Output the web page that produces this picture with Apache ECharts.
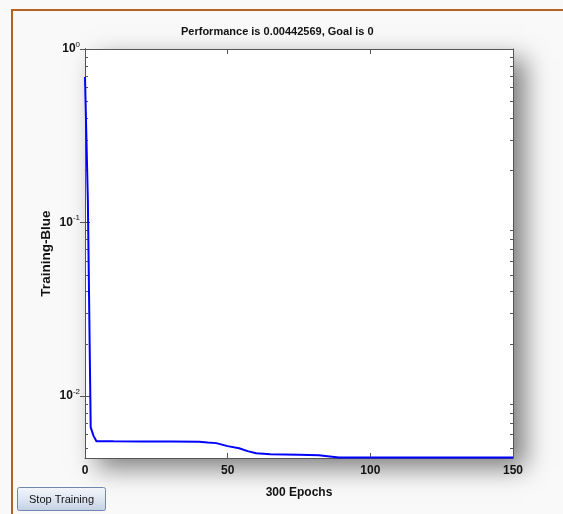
<!DOCTYPE html>
<html>
<head>
<meta charset="utf-8">
<script src="https://cdn.jsdelivr.net/npm/echarts@6/dist/echarts.min.js"></script>
<style>
html,body{margin:0;padding:0;background:#f9f9f9;}
#c{width:563px;height:514px;}
</style>
</head>
<body>
<div id="c"></div>
<script>
// ---- data ----
const titleText = 'Performance is 0.00442569, Goal is 0';
const xName = '300 Epochs';
const yName = 'Training-Blue';
const xTicks = [0, 50, 100, 150];
const yMajorTicks = [0.01, 0.1, 1];
const yMinorTicks = [0.005, 0.006, 0.007, 0.008, 0.009,
  0.02, 0.03, 0.04, 0.05, 0.06, 0.07, 0.08, 0.09,
  0.2, 0.3, 0.4, 0.5, 0.6, 0.7, 0.8, 0.9];
const epochs = [0, 1, 2, 3, 4, 10, 20, 30, 40, 43, 46, 50, 54, 57, 60, 65, 75, 82, 85, 89, 100, 120, 150];
const perf = [0.69, 0.135, 0.0066, 0.0059, 0.0055, 0.00549, 0.00548, 0.00547, 0.00545, 0.0054, 0.00536,
  0.00515, 0.00501, 0.00482, 0.00469, 0.00462, 0.00459, 0.00457, 0.00451, 0.00443, 0.004428, 0.004427, 0.0044257];
const yMin = 0.0044, yMax = 1;
const xMin = 0, xMax = 150;

const axisColor = '#555';
const font = 'Liberation Sans, Arial, sans-serif';

function yLabel(v) {
  const e = Math.round(Math.log10(v));
  return '{b|10}{s|' + (e === 0 ? '0' : e) + '}';
}
const yRich = {
  b: {fontFamily: font, fontWeight: 'bold', fontSize: 12, color: '#111'},
  s: {fontFamily: font, fontSize: 8, color: '#111', verticalAlign: 'bottom', padding: [0, 0, 9, 0]}
};

function yAx(pos, ticks, len, showLabel) {
  return {
    type: 'log', logBase: 10, min: yMin, max: yMax, position: pos,
    axisLine: {show: true, lineStyle: {color: axisColor, width: 1}},
    axisTick: {show: true, inside: true, length: len, customValues: ticks, lineStyle: {color: axisColor}},
    axisLabel: showLabel ? {show: true, customValues: yMajorTicks, formatter: yLabel, rich: yRich, margin: 5} : {show: false},
    splitLine: {show: false}, minorTick: {show: false}
  };
}

const chart = echarts.init(document.getElementById('c'));
chart.setOption({
  animation: false,
  backgroundColor: '#f9f9f9',
  title: {
    text: titleText, left: 176, top: 21,
    textStyle: {fontFamily: font, fontWeight: 'bold', fontSize: 11, color: '#111'}
  },
  grid: {
    left: 85, right: 50, top: 49, bottom: 56, show: true,
    backgroundColor: '#fff', borderWidth: 0,
    shadowColor: 'rgba(0,0,0,0.5)', shadowBlur: 24, shadowOffsetX: 12, shadowOffsetY: 10
  },
  xAxis: [{
    type: 'value', min: xMin, max: xMax, position: 'bottom',
    name: xName, nameLocation: 'middle', nameGap: 29,
    nameTextStyle: {fontFamily: font, fontWeight: 'bold', fontSize: 12, color: '#111'},
    axisLine: {show: true, lineStyle: {color: axisColor}},
    axisTick: {show: true, inside: true, length: 5, customValues: xTicks, lineStyle: {color: axisColor}},
    axisLabel: {customValues: xTicks, margin: 7, fontFamily: font, fontWeight: 'bold', fontSize: 12, color: '#111'},
    splitLine: {show: false}
  }, {
    type: 'value', min: xMin, max: xMax, position: 'top',
    axisLine: {show: true, lineStyle: {color: axisColor}},
    axisTick: {show: true, inside: true, length: 5, customValues: xTicks, lineStyle: {color: axisColor}},
    axisLabel: {show: false}, splitLine: {show: false}
  }],
  yAxis: [
    Object.assign(yAx('left', yMajorTicks, 5, true), {
      name: yName, nameLocation: 'middle', nameGap: 32, nameMoveOverlap: false,
      nameTextStyle: {fontFamily: font, fontWeight: 'bold', fontSize: 13.5, color: '#111'}
    }),
    yAx('right', yMajorTicks, 5, false),
    yAx('left', yMinorTicks, 3, false),
    yAx('right', yMinorTicks, 3, false)
  ],
  series: [{
    type: 'line', xAxisIndex: 0, yAxisIndex: 0,
    data: epochs.map((e, i) => [e, perf[i]]),
    showSymbol: false, symbol: 'none',
    lineStyle: {color: '#0000ff', width: 2}, clip: true
  }],
  graphic: [
    {type: 'rect', shape: {x: 11, y: 9, width: 600, height: 2}, style: {fill: '#b5611f'}, silent: true},
    {type: 'rect', shape: {x: 11, y: 9, width: 2, height: 520}, style: {fill: '#b5611f'}, silent: true},
    {type: 'group', left: 17, top: 487, children: [
      {type: 'rect', shape: {x: 0, y: 0, width: 88, height: 23, r: 2},
        style: {
          fill: new echarts.graphic.LinearGradient(0, 0, 0, 1, [
            {offset: 0, color: '#f4f7fc'}, {offset: 0.5, color: '#dfe6f1'}, {offset: 1, color: '#c3cfe2'}]),
          stroke: '#6f86ad', lineWidth: 1
        }},
      {type: 'text', x: 44, y: 12,
        style: {text: 'Stop Training', fontFamily: font, fontSize: 11, fill: '#111', align: 'center', verticalAlign: 'middle'}}
    ]}
  ]
});
</script>
</body>
</html>
